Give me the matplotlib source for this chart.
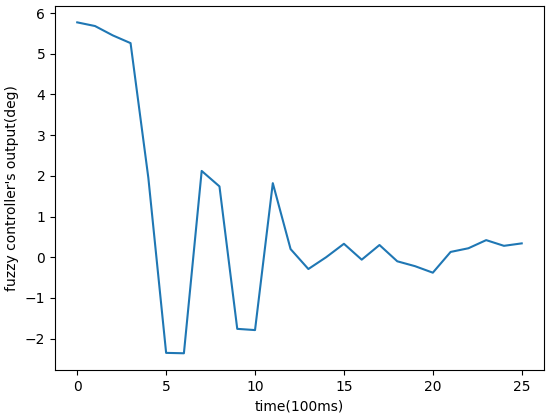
import matplotlib
matplotlib.use("Agg")
import matplotlib.pyplot as plt

time = list(range(26))
output = [5.77, 5.68, 5.45, 5.26, 1.95, -2.35, -2.36, 2.12, 1.74, -1.76, -1.79,
          1.82, 0.20, -0.29, 0.00, 0.33, -0.06, 0.30, -0.10, -0.22, -0.38,
          0.13, 0.22, 0.42, 0.28, 0.34]

fig = plt.figure(figsize=(5.5, 4.16), dpi=100)
ax = fig.add_subplot(111)
fig.subplots_adjust(left=0.1, right=0.989, top=0.986, bottom=0.111)
ax.plot(time, output, color="#1f77b4", linewidth=1.5)
ax.set_xlabel("time(100ms)")
ax.set_ylabel("fuzzy controller's output(deg)")
ax.set_xticks([0, 5, 10, 15, 20, 25])
ax.set_yticks([-2, -1, 0, 1, 2, 3, 4, 5, 6])
fig.savefig("out.png", dpi=100)
